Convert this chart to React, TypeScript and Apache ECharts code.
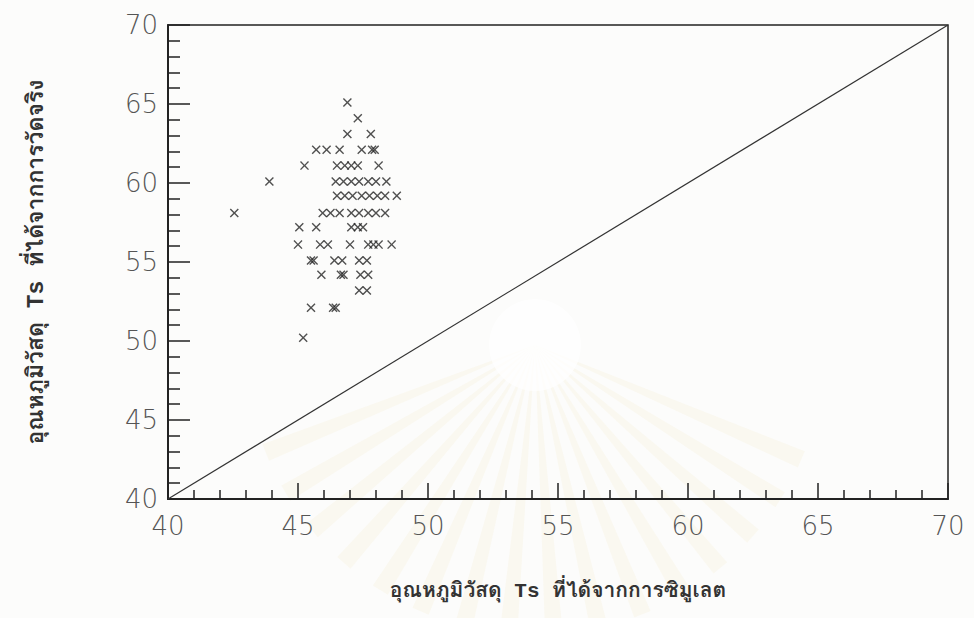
import React, { useEffect, useRef } from "react";
import * as echarts from "echarts";

// Axis range / tick labels
const axisMin = 40;
const axisMax = 70;
const axisStep = 5;

// Axis titles
const xTitle = "อุณหภูมิวัสดุ Ts ที่ได้จากการซิมูเลต";
const yTitle = "อุณหภูมิวัสดุ Ts ที่ได้จากการวัดจริง";

// Measured Ts (one value per row of markers)
const measuredRows = [65.1, 64.1, 63.1, 62.1, 61.1, 60.1, 59.2, 58.1, 57.2, 56.1, 55.1, 54.2, 53.2, 52.1, 50.2];

// Simulated Ts for the markers on each row
const simulatedRow65 = [46.9];
const simulatedRow64 = [47.3];
const simulatedRow63 = [46.9, 47.8];
const simulatedRow62 = [45.7, 46.1, 46.6, 47.45, 47.85, 47.95];
const simulatedRow61 = [45.25, 46.5, 46.8, 47.05, 47.3, 48.1];
const simulatedRow60 = [43.9, 46.45, 46.75, 47.05, 47.35, 47.7, 48.0, 48.4];
const simulatedRow59 = [46.5, 46.8, 47.1, 47.45, 47.75, 48.05, 48.35, 48.8];
const simulatedRow58 = [42.55, 45.95, 46.25, 46.6, 47.05, 47.35, 47.7, 48.0, 48.35];
const simulatedRow57 = [45.05, 45.7, 47.05, 47.3, 47.5];
const simulatedRow56 = [45.0, 45.85, 46.15, 47.0, 47.7, 47.9, 48.1, 48.6];
const simulatedRow55 = [45.5, 45.6, 46.4, 46.7, 47.35, 47.65];
const simulatedRow54 = [45.9, 46.65, 46.75, 47.4, 47.7];
const simulatedRow53 = [47.35, 47.65];
const simulatedRow52 = [45.5, 46.35, 46.45];
const simulatedRow50 = [45.2];

const simulatedRows = [
  simulatedRow65, simulatedRow64, simulatedRow63, simulatedRow62, simulatedRow61,
  simulatedRow60, simulatedRow59, simulatedRow58, simulatedRow57, simulatedRow56,
  simulatedRow55, simulatedRow54, simulatedRow53, simulatedRow52, simulatedRow50,
];

// 1:1 reference line
const lineX = [40, 70];
const lineY = [40, 70];

const CROSS = "path://M0,1.1L1.1,0L5,3.9L8.9,0L10,1.1L6.1,5L10,8.9L8.9,10L5,6.1L1.1,10L0,8.9L3.9,5Z";

export default function App() {
  const ref = useRef<HTMLDivElement>(null);
  useEffect(() => {
    if (!ref.current) return;
    const chart = echarts.init(ref.current, undefined, { renderer: "svg" });

    const points: number[][] = [];
    measuredRows.forEach((y, i) => {
      simulatedRows[i].forEach((x) => points.push([x, y]));
    });

    // very faint scanned watermark (decorative background)
    const cx = 535, cy = 345;
    const rays: any[] = [];
    for (let k = 0; k < 16; k++) {
      const a0 = (200 + k * 9) * Math.PI / 180;
      const a1 = a0 + 3.5 * Math.PI / 180;
      const r = 290;
      rays.push({
        type: "polygon",
        silent: true,
        z: -10,
        shape: { points: [[cx, cy], [cx + r * Math.cos(a0), cy - r * Math.sin(a0)], [cx + r * Math.cos(a1), cy - r * Math.sin(a1)]] },
        style: { fill: "rgba(238, 214, 150, 0.1)" },
      });
    }

    const labelFont = "'DejaVu Sans', sans-serif";
    const titleFont = "'Tlwg Typewriter', 'TlwgTypewriter', 'Courier New', 'Liberation Mono', 'Loma', 'Noto Serif Thai', 'Noto Sans Thai Looped', 'Noto Sans Thai', monospace";
    const axisColor = "#222";

    const common = {
      type: "value" as const,
      min: axisMin,
      max: axisMax,
      interval: axisStep,
      splitLine: { show: false },
      axisLine: { show: true, lineStyle: { color: axisColor, width: 2 } },
      nameLocation: "middle" as const,
      axisLabel: { fontSize: 26, color: "#555", fontFamily: labelFont, fontWeight: 200 },
    };

    chart.setOption({
      animation: false,
      backgroundColor: "#fcfcfb",
      graphic: [
        ...rays,
        { type: "circle", silent: true, z: -9, shape: { cx, cy, r: 46 }, style: { fill: "rgba(255,255,255,0.7)" } },
      ],
      grid: {
        left: 168, right: 26, top: 25, bottom: 119,
        show: true, borderColor: axisColor, borderWidth: 1.5, backgroundColor: "transparent",
      },
      xAxis: {
        ...common,
        name: xTitle,
        nameGap: 82,
        nameTextStyle: { fontSize: 21, fontWeight: "bold", color: "#333", fontFamily: titleFont },
        axisTick: { show: true, inside: true, length: 16, lineStyle: { color: axisColor, width: 1.5 } },
        minorTick: { show: true, splitNumber: 5, length: 9, lineStyle: { color: axisColor, width: 1.5 } },
        axisLabel: { ...common.axisLabel, margin: 14 },
      },
      yAxis: {
        ...common,
        name: yTitle,
        nameGap: 120,
        nameTextStyle: { fontSize: 23, fontWeight: "bold", color: "#333", fontFamily: titleFont },
        axisTick: { show: true, inside: true, length: 22, lineStyle: { color: axisColor, width: 1.5 } },
        minorTick: { show: true, splitNumber: 5, length: 12, lineStyle: { color: axisColor, width: 1.5 } },
        axisLabel: { ...common.axisLabel, margin: 10 },
      },
      series: [
        {
          type: "line",
          data: lineX.map((x, i) => [x, lineY[i]]),
          symbol: "none",
          lineStyle: { color: "#333", width: 1.2 },
          silent: true,
        },
        {
          type: "scatter",
          data: points,
          symbol: CROSS,
          symbolSize: 9,
          itemStyle: { color: "#262626" },
        },
      ],
    });
    return () => chart.dispose();
  }, []);
  return <div ref={ref} style={{ width: 974, height: 618, position: "absolute", left: 0, top: 0 }} />;
}
